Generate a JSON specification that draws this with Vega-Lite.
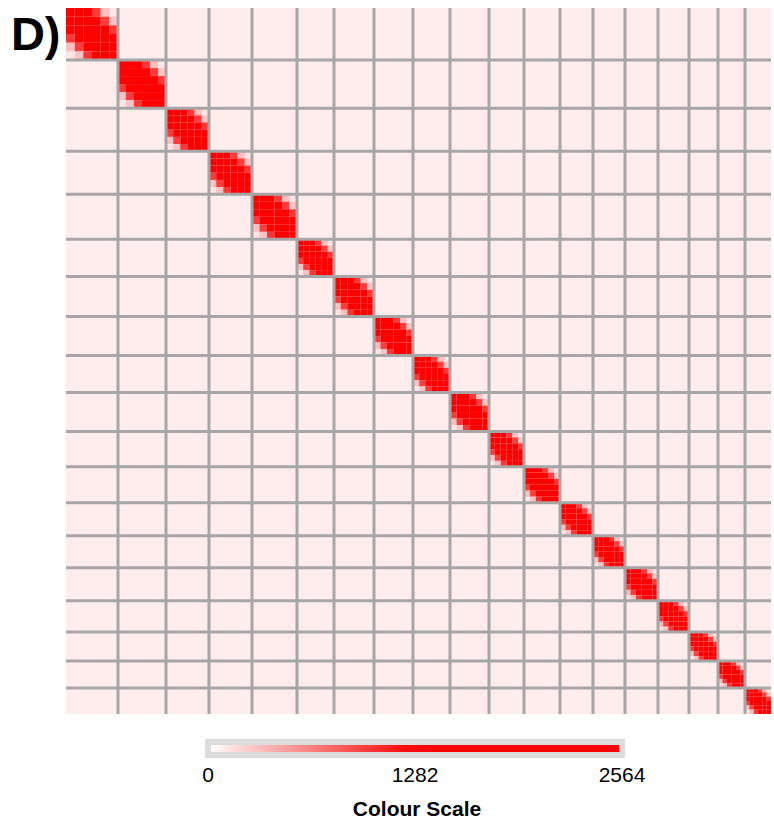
{
  "$schema": "https://vega.github.io/schema/vega-lite/v6.json",
  "autosize": "none",
  "width": 705,
  "height": 706,
  "padding": {"left": 66, "top": 8, "right": 3, "bottom": 106},
  "background": "#ffffff",
  "config": {
    "view": {"stroke": null},
    "font": "Liberation Sans",
    "axisY": {"labels": false, "ticks": false, "domain": false, "grid": false, "titleAngle": 0, "titleAlign": "right", "titleBaseline": "alphabetic", "titleX": -6, "titleY": 41, "titleFontSize": 47, "titleFontWeight": "bold", "titleFont": "Liberation Sans", "titleColor": "#000000"}
  },
  "layer": [
    {
      "data": {"values": [
        {"p0":0,"p1":705,"q0":0,"q1":705,"v":90},
        {"p0":0,"p1":52,"q0":0,"q1":52,"v":130},
        {"p0":52,"p1":100,"q0":52,"q1":100,"v":130},
        {"p0":100,"p1":143,"q0":100,"q1":143,"v":130},
        {"p0":143,"p1":186,"q0":143,"q1":186,"v":130},
        {"p0":186,"p1":231,"q0":186,"q1":231,"v":130},
        {"p0":231,"p1":268,"q0":231,"q1":268,"v":130},
        {"p0":268,"p1":308,"q0":268,"q1":308,"v":130},
        {"p0":308,"p1":347,"q0":308,"q1":347,"v":130},
        {"p0":347,"p1":384,"q0":347,"q1":384,"v":130},
        {"p0":384,"p1":423,"q0":384,"q1":423,"v":130},
        {"p0":423,"p1":458,"q0":423,"q1":458,"v":130},
        {"p0":458,"p1":494,"q0":458,"q1":494,"v":130},
        {"p0":494,"p1":527,"q0":494,"q1":527,"v":130},
        {"p0":527,"p1":559,"q0":527,"q1":559,"v":130},
        {"p0":559,"p1":592,"q0":559,"q1":592,"v":130},
        {"p0":592,"p1":623,"q0":592,"q1":623,"v":130},
        {"p0":623,"p1":652,"q0":623,"q1":652,"v":130},
        {"p0":652,"p1":679,"q0":652,"q1":679,"v":130},
        {"p0":679,"p1":705,"q0":679,"q1":705,"v":130},

        {"p0":0,"p1":8.7,"q0":0,"q1":8.7,"v":2564},
        {"p0":0,"p1":8.7,"q0":8.7,"q1":17.3,"v":2100},
        {"p0":0,"p1":8.7,"q0":17.3,"q1":26,"v":1350},
        {"p0":0,"p1":8.7,"q0":26,"q1":34.7,"v":1000},
        {"p0":0,"p1":8.7,"q0":34.7,"q1":43.3,"v":320},
        {"p0":8.7,"p1":17.3,"q0":0,"q1":8.7,"v":2100},
        {"p0":8.7,"p1":17.3,"q0":8.7,"q1":17.3,"v":2540},
        {"p0":8.7,"p1":17.3,"q0":17.3,"q1":26,"v":2050},
        {"p0":8.7,"p1":17.3,"q0":26,"q1":34.7,"v":1300},
        {"p0":8.7,"p1":17.3,"q0":34.7,"q1":43.3,"v":980},
        {"p0":8.7,"p1":17.3,"q0":43.3,"q1":52,"v":300},
        {"p0":17.3,"p1":26,"q0":0,"q1":8.7,"v":1350},
        {"p0":17.3,"p1":26,"q0":8.7,"q1":17.3,"v":2050},
        {"p0":17.3,"p1":26,"q0":17.3,"q1":26,"v":2500},
        {"p0":17.3,"p1":26,"q0":26,"q1":34.7,"v":2080},
        {"p0":17.3,"p1":26,"q0":34.7,"q1":43.3,"v":1320},
        {"p0":17.3,"p1":26,"q0":43.3,"q1":52,"v":1020},
        {"p0":26,"p1":34.7,"q0":0,"q1":8.7,"v":1000},
        {"p0":26,"p1":34.7,"q0":8.7,"q1":17.3,"v":1300},
        {"p0":26,"p1":34.7,"q0":17.3,"q1":26,"v":2080},
        {"p0":26,"p1":34.7,"q0":26,"q1":34.7,"v":2520},
        {"p0":26,"p1":34.7,"q0":34.7,"q1":43.3,"v":2020},
        {"p0":26,"p1":34.7,"q0":43.3,"q1":52,"v":1280},
        {"p0":34.7,"p1":43.3,"q0":0,"q1":8.7,"v":320},
        {"p0":34.7,"p1":43.3,"q0":8.7,"q1":17.3,"v":980},
        {"p0":34.7,"p1":43.3,"q0":17.3,"q1":26,"v":1320},
        {"p0":34.7,"p1":43.3,"q0":26,"q1":34.7,"v":2020},
        {"p0":34.7,"p1":43.3,"q0":34.7,"q1":43.3,"v":2490},
        {"p0":34.7,"p1":43.3,"q0":43.3,"q1":52,"v":2060},
        {"p0":43.3,"p1":52,"q0":8.7,"q1":17.3,"v":300},
        {"p0":43.3,"p1":52,"q0":17.3,"q1":26,"v":1020},
        {"p0":43.3,"p1":52,"q0":26,"q1":34.7,"v":1280},
        {"p0":43.3,"p1":52,"q0":34.7,"q1":43.3,"v":2060},
        {"p0":43.3,"p1":52,"q0":43.3,"q1":52,"v":2550},

        {"p0":52,"p1":60,"q0":52,"q1":60,"v":2564},
        {"p0":52,"p1":60,"q0":60,"q1":68,"v":2100},
        {"p0":52,"p1":60,"q0":68,"q1":76,"v":1350},
        {"p0":52,"p1":60,"q0":76,"q1":84,"v":1000},
        {"p0":52,"p1":60,"q0":84,"q1":92,"v":320},
        {"p0":60,"p1":68,"q0":52,"q1":60,"v":2100},
        {"p0":60,"p1":68,"q0":60,"q1":68,"v":2540},
        {"p0":60,"p1":68,"q0":68,"q1":76,"v":2050},
        {"p0":60,"p1":68,"q0":76,"q1":84,"v":1300},
        {"p0":60,"p1":68,"q0":84,"q1":92,"v":980},
        {"p0":60,"p1":68,"q0":92,"q1":100,"v":300},
        {"p0":68,"p1":76,"q0":52,"q1":60,"v":1350},
        {"p0":68,"p1":76,"q0":60,"q1":68,"v":2050},
        {"p0":68,"p1":76,"q0":68,"q1":76,"v":2500},
        {"p0":68,"p1":76,"q0":76,"q1":84,"v":2080},
        {"p0":68,"p1":76,"q0":84,"q1":92,"v":1320},
        {"p0":68,"p1":76,"q0":92,"q1":100,"v":1020},
        {"p0":76,"p1":84,"q0":52,"q1":60,"v":1000},
        {"p0":76,"p1":84,"q0":60,"q1":68,"v":1300},
        {"p0":76,"p1":84,"q0":68,"q1":76,"v":2080},
        {"p0":76,"p1":84,"q0":76,"q1":84,"v":2520},
        {"p0":76,"p1":84,"q0":84,"q1":92,"v":2020},
        {"p0":76,"p1":84,"q0":92,"q1":100,"v":1280},
        {"p0":84,"p1":92,"q0":52,"q1":60,"v":320},
        {"p0":84,"p1":92,"q0":60,"q1":68,"v":980},
        {"p0":84,"p1":92,"q0":68,"q1":76,"v":1320},
        {"p0":84,"p1":92,"q0":76,"q1":84,"v":2020},
        {"p0":84,"p1":92,"q0":84,"q1":92,"v":2490},
        {"p0":84,"p1":92,"q0":92,"q1":100,"v":2060},
        {"p0":92,"p1":100,"q0":60,"q1":68,"v":300},
        {"p0":92,"p1":100,"q0":68,"q1":76,"v":1020},
        {"p0":92,"p1":100,"q0":76,"q1":84,"v":1280},
        {"p0":92,"p1":100,"q0":84,"q1":92,"v":2060},
        {"p0":92,"p1":100,"q0":92,"q1":100,"v":2550},

        {"p0":100,"p1":107.2,"q0":100,"q1":107.2,"v":2564},
        {"p0":100,"p1":107.2,"q0":107.2,"q1":114.3,"v":2100},
        {"p0":100,"p1":107.2,"q0":114.3,"q1":121.5,"v":1350},
        {"p0":100,"p1":107.2,"q0":121.5,"q1":128.7,"v":1000},
        {"p0":100,"p1":107.2,"q0":128.7,"q1":135.8,"v":320},
        {"p0":107.2,"p1":114.3,"q0":100,"q1":107.2,"v":2100},
        {"p0":107.2,"p1":114.3,"q0":107.2,"q1":114.3,"v":2540},
        {"p0":107.2,"p1":114.3,"q0":114.3,"q1":121.5,"v":2050},
        {"p0":107.2,"p1":114.3,"q0":121.5,"q1":128.7,"v":1300},
        {"p0":107.2,"p1":114.3,"q0":128.7,"q1":135.8,"v":980},
        {"p0":107.2,"p1":114.3,"q0":135.8,"q1":143,"v":300},
        {"p0":114.3,"p1":121.5,"q0":100,"q1":107.2,"v":1350},
        {"p0":114.3,"p1":121.5,"q0":107.2,"q1":114.3,"v":2050},
        {"p0":114.3,"p1":121.5,"q0":114.3,"q1":121.5,"v":2500},
        {"p0":114.3,"p1":121.5,"q0":121.5,"q1":128.7,"v":2080},
        {"p0":114.3,"p1":121.5,"q0":128.7,"q1":135.8,"v":1320},
        {"p0":114.3,"p1":121.5,"q0":135.8,"q1":143,"v":1020},
        {"p0":121.5,"p1":128.7,"q0":100,"q1":107.2,"v":1000},
        {"p0":121.5,"p1":128.7,"q0":107.2,"q1":114.3,"v":1300},
        {"p0":121.5,"p1":128.7,"q0":114.3,"q1":121.5,"v":2080},
        {"p0":121.5,"p1":128.7,"q0":121.5,"q1":128.7,"v":2520},
        {"p0":121.5,"p1":128.7,"q0":128.7,"q1":135.8,"v":2020},
        {"p0":121.5,"p1":128.7,"q0":135.8,"q1":143,"v":1280},
        {"p0":128.7,"p1":135.8,"q0":100,"q1":107.2,"v":320},
        {"p0":128.7,"p1":135.8,"q0":107.2,"q1":114.3,"v":980},
        {"p0":128.7,"p1":135.8,"q0":114.3,"q1":121.5,"v":1320},
        {"p0":128.7,"p1":135.8,"q0":121.5,"q1":128.7,"v":2020},
        {"p0":128.7,"p1":135.8,"q0":128.7,"q1":135.8,"v":2490},
        {"p0":128.7,"p1":135.8,"q0":135.8,"q1":143,"v":2060},
        {"p0":135.8,"p1":143,"q0":107.2,"q1":114.3,"v":300},
        {"p0":135.8,"p1":143,"q0":114.3,"q1":121.5,"v":1020},
        {"p0":135.8,"p1":143,"q0":121.5,"q1":128.7,"v":1280},
        {"p0":135.8,"p1":143,"q0":128.7,"q1":135.8,"v":2060},
        {"p0":135.8,"p1":143,"q0":135.8,"q1":143,"v":2550},

        {"p0":143,"p1":150.2,"q0":143,"q1":150.2,"v":2564},
        {"p0":143,"p1":150.2,"q0":150.2,"q1":157.3,"v":2100},
        {"p0":143,"p1":150.2,"q0":157.3,"q1":164.5,"v":1350},
        {"p0":143,"p1":150.2,"q0":164.5,"q1":171.7,"v":1000},
        {"p0":143,"p1":150.2,"q0":171.7,"q1":178.8,"v":320},
        {"p0":150.2,"p1":157.3,"q0":143,"q1":150.2,"v":2100},
        {"p0":150.2,"p1":157.3,"q0":150.2,"q1":157.3,"v":2540},
        {"p0":150.2,"p1":157.3,"q0":157.3,"q1":164.5,"v":2050},
        {"p0":150.2,"p1":157.3,"q0":164.5,"q1":171.7,"v":1300},
        {"p0":150.2,"p1":157.3,"q0":171.7,"q1":178.8,"v":980},
        {"p0":150.2,"p1":157.3,"q0":178.8,"q1":186,"v":300},
        {"p0":157.3,"p1":164.5,"q0":143,"q1":150.2,"v":1350},
        {"p0":157.3,"p1":164.5,"q0":150.2,"q1":157.3,"v":2050},
        {"p0":157.3,"p1":164.5,"q0":157.3,"q1":164.5,"v":2500},
        {"p0":157.3,"p1":164.5,"q0":164.5,"q1":171.7,"v":2080},
        {"p0":157.3,"p1":164.5,"q0":171.7,"q1":178.8,"v":1320},
        {"p0":157.3,"p1":164.5,"q0":178.8,"q1":186,"v":1020},
        {"p0":164.5,"p1":171.7,"q0":143,"q1":150.2,"v":1000},
        {"p0":164.5,"p1":171.7,"q0":150.2,"q1":157.3,"v":1300},
        {"p0":164.5,"p1":171.7,"q0":157.3,"q1":164.5,"v":2080},
        {"p0":164.5,"p1":171.7,"q0":164.5,"q1":171.7,"v":2520},
        {"p0":164.5,"p1":171.7,"q0":171.7,"q1":178.8,"v":2020},
        {"p0":164.5,"p1":171.7,"q0":178.8,"q1":186,"v":1280},
        {"p0":171.7,"p1":178.8,"q0":143,"q1":150.2,"v":320},
        {"p0":171.7,"p1":178.8,"q0":150.2,"q1":157.3,"v":980},
        {"p0":171.7,"p1":178.8,"q0":157.3,"q1":164.5,"v":1320},
        {"p0":171.7,"p1":178.8,"q0":164.5,"q1":171.7,"v":2020},
        {"p0":171.7,"p1":178.8,"q0":171.7,"q1":178.8,"v":2490},
        {"p0":171.7,"p1":178.8,"q0":178.8,"q1":186,"v":2060},
        {"p0":178.8,"p1":186,"q0":150.2,"q1":157.3,"v":300},
        {"p0":178.8,"p1":186,"q0":157.3,"q1":164.5,"v":1020},
        {"p0":178.8,"p1":186,"q0":164.5,"q1":171.7,"v":1280},
        {"p0":178.8,"p1":186,"q0":171.7,"q1":178.8,"v":2060},
        {"p0":178.8,"p1":186,"q0":178.8,"q1":186,"v":2550},

        {"p0":186,"p1":193.5,"q0":186,"q1":193.5,"v":2564},
        {"p0":186,"p1":193.5,"q0":193.5,"q1":201,"v":2100},
        {"p0":186,"p1":193.5,"q0":201,"q1":208.5,"v":1350},
        {"p0":186,"p1":193.5,"q0":208.5,"q1":216,"v":1000},
        {"p0":186,"p1":193.5,"q0":216,"q1":223.5,"v":320},
        {"p0":193.5,"p1":201,"q0":186,"q1":193.5,"v":2100},
        {"p0":193.5,"p1":201,"q0":193.5,"q1":201,"v":2540},
        {"p0":193.5,"p1":201,"q0":201,"q1":208.5,"v":2050},
        {"p0":193.5,"p1":201,"q0":208.5,"q1":216,"v":1300},
        {"p0":193.5,"p1":201,"q0":216,"q1":223.5,"v":980},
        {"p0":193.5,"p1":201,"q0":223.5,"q1":231,"v":300},
        {"p0":201,"p1":208.5,"q0":186,"q1":193.5,"v":1350},
        {"p0":201,"p1":208.5,"q0":193.5,"q1":201,"v":2050},
        {"p0":201,"p1":208.5,"q0":201,"q1":208.5,"v":2500},
        {"p0":201,"p1":208.5,"q0":208.5,"q1":216,"v":2080},
        {"p0":201,"p1":208.5,"q0":216,"q1":223.5,"v":1320},
        {"p0":201,"p1":208.5,"q0":223.5,"q1":231,"v":1020},
        {"p0":208.5,"p1":216,"q0":186,"q1":193.5,"v":1000},
        {"p0":208.5,"p1":216,"q0":193.5,"q1":201,"v":1300},
        {"p0":208.5,"p1":216,"q0":201,"q1":208.5,"v":2080},
        {"p0":208.5,"p1":216,"q0":208.5,"q1":216,"v":2520},
        {"p0":208.5,"p1":216,"q0":216,"q1":223.5,"v":2020},
        {"p0":208.5,"p1":216,"q0":223.5,"q1":231,"v":1280},
        {"p0":216,"p1":223.5,"q0":186,"q1":193.5,"v":320},
        {"p0":216,"p1":223.5,"q0":193.5,"q1":201,"v":980},
        {"p0":216,"p1":223.5,"q0":201,"q1":208.5,"v":1320},
        {"p0":216,"p1":223.5,"q0":208.5,"q1":216,"v":2020},
        {"p0":216,"p1":223.5,"q0":216,"q1":223.5,"v":2490},
        {"p0":216,"p1":223.5,"q0":223.5,"q1":231,"v":2060},
        {"p0":223.5,"p1":231,"q0":193.5,"q1":201,"v":300},
        {"p0":223.5,"p1":231,"q0":201,"q1":208.5,"v":1020},
        {"p0":223.5,"p1":231,"q0":208.5,"q1":216,"v":1280},
        {"p0":223.5,"p1":231,"q0":216,"q1":223.5,"v":2060},
        {"p0":223.5,"p1":231,"q0":223.5,"q1":231,"v":2550},

        {"p0":231,"p1":237.2,"q0":231,"q1":237.2,"v":2564},
        {"p0":231,"p1":237.2,"q0":237.2,"q1":243.3,"v":2100},
        {"p0":231,"p1":237.2,"q0":243.3,"q1":249.5,"v":1350},
        {"p0":231,"p1":237.2,"q0":249.5,"q1":255.7,"v":1000},
        {"p0":231,"p1":237.2,"q0":255.7,"q1":261.8,"v":320},
        {"p0":237.2,"p1":243.3,"q0":231,"q1":237.2,"v":2100},
        {"p0":237.2,"p1":243.3,"q0":237.2,"q1":243.3,"v":2540},
        {"p0":237.2,"p1":243.3,"q0":243.3,"q1":249.5,"v":2050},
        {"p0":237.2,"p1":243.3,"q0":249.5,"q1":255.7,"v":1300},
        {"p0":237.2,"p1":243.3,"q0":255.7,"q1":261.8,"v":980},
        {"p0":237.2,"p1":243.3,"q0":261.8,"q1":268,"v":300},
        {"p0":243.3,"p1":249.5,"q0":231,"q1":237.2,"v":1350},
        {"p0":243.3,"p1":249.5,"q0":237.2,"q1":243.3,"v":2050},
        {"p0":243.3,"p1":249.5,"q0":243.3,"q1":249.5,"v":2500},
        {"p0":243.3,"p1":249.5,"q0":249.5,"q1":255.7,"v":2080},
        {"p0":243.3,"p1":249.5,"q0":255.7,"q1":261.8,"v":1320},
        {"p0":243.3,"p1":249.5,"q0":261.8,"q1":268,"v":1020},
        {"p0":249.5,"p1":255.7,"q0":231,"q1":237.2,"v":1000},
        {"p0":249.5,"p1":255.7,"q0":237.2,"q1":243.3,"v":1300},
        {"p0":249.5,"p1":255.7,"q0":243.3,"q1":249.5,"v":2080},
        {"p0":249.5,"p1":255.7,"q0":249.5,"q1":255.7,"v":2520},
        {"p0":249.5,"p1":255.7,"q0":255.7,"q1":261.8,"v":2020},
        {"p0":249.5,"p1":255.7,"q0":261.8,"q1":268,"v":1280},
        {"p0":255.7,"p1":261.8,"q0":231,"q1":237.2,"v":320},
        {"p0":255.7,"p1":261.8,"q0":237.2,"q1":243.3,"v":980},
        {"p0":255.7,"p1":261.8,"q0":243.3,"q1":249.5,"v":1320},
        {"p0":255.7,"p1":261.8,"q0":249.5,"q1":255.7,"v":2020},
        {"p0":255.7,"p1":261.8,"q0":255.7,"q1":261.8,"v":2490},
        {"p0":255.7,"p1":261.8,"q0":261.8,"q1":268,"v":2060},
        {"p0":261.8,"p1":268,"q0":237.2,"q1":243.3,"v":300},
        {"p0":261.8,"p1":268,"q0":243.3,"q1":249.5,"v":1020},
        {"p0":261.8,"p1":268,"q0":249.5,"q1":255.7,"v":1280},
        {"p0":261.8,"p1":268,"q0":255.7,"q1":261.8,"v":2060},
        {"p0":261.8,"p1":268,"q0":261.8,"q1":268,"v":2550},

        {"p0":268,"p1":274.7,"q0":268,"q1":274.7,"v":2564},
        {"p0":268,"p1":274.7,"q0":274.7,"q1":281.3,"v":2100},
        {"p0":268,"p1":274.7,"q0":281.3,"q1":288,"v":1350},
        {"p0":268,"p1":274.7,"q0":288,"q1":294.7,"v":1000},
        {"p0":268,"p1":274.7,"q0":294.7,"q1":301.3,"v":320},
        {"p0":274.7,"p1":281.3,"q0":268,"q1":274.7,"v":2100},
        {"p0":274.7,"p1":281.3,"q0":274.7,"q1":281.3,"v":2540},
        {"p0":274.7,"p1":281.3,"q0":281.3,"q1":288,"v":2050},
        {"p0":274.7,"p1":281.3,"q0":288,"q1":294.7,"v":1300},
        {"p0":274.7,"p1":281.3,"q0":294.7,"q1":301.3,"v":980},
        {"p0":274.7,"p1":281.3,"q0":301.3,"q1":308,"v":300},
        {"p0":281.3,"p1":288,"q0":268,"q1":274.7,"v":1350},
        {"p0":281.3,"p1":288,"q0":274.7,"q1":281.3,"v":2050},
        {"p0":281.3,"p1":288,"q0":281.3,"q1":288,"v":2500},
        {"p0":281.3,"p1":288,"q0":288,"q1":294.7,"v":2080},
        {"p0":281.3,"p1":288,"q0":294.7,"q1":301.3,"v":1320},
        {"p0":281.3,"p1":288,"q0":301.3,"q1":308,"v":1020},
        {"p0":288,"p1":294.7,"q0":268,"q1":274.7,"v":1000},
        {"p0":288,"p1":294.7,"q0":274.7,"q1":281.3,"v":1300},
        {"p0":288,"p1":294.7,"q0":281.3,"q1":288,"v":2080},
        {"p0":288,"p1":294.7,"q0":288,"q1":294.7,"v":2520},
        {"p0":288,"p1":294.7,"q0":294.7,"q1":301.3,"v":2020},
        {"p0":288,"p1":294.7,"q0":301.3,"q1":308,"v":1280},
        {"p0":294.7,"p1":301.3,"q0":268,"q1":274.7,"v":320},
        {"p0":294.7,"p1":301.3,"q0":274.7,"q1":281.3,"v":980},
        {"p0":294.7,"p1":301.3,"q0":281.3,"q1":288,"v":1320},
        {"p0":294.7,"p1":301.3,"q0":288,"q1":294.7,"v":2020},
        {"p0":294.7,"p1":301.3,"q0":294.7,"q1":301.3,"v":2490},
        {"p0":294.7,"p1":301.3,"q0":301.3,"q1":308,"v":2060},
        {"p0":301.3,"p1":308,"q0":274.7,"q1":281.3,"v":300},
        {"p0":301.3,"p1":308,"q0":281.3,"q1":288,"v":1020},
        {"p0":301.3,"p1":308,"q0":288,"q1":294.7,"v":1280},
        {"p0":301.3,"p1":308,"q0":294.7,"q1":301.3,"v":2060},
        {"p0":301.3,"p1":308,"q0":301.3,"q1":308,"v":2550},

        {"p0":308,"p1":314.5,"q0":308,"q1":314.5,"v":2564},
        {"p0":308,"p1":314.5,"q0":314.5,"q1":321,"v":2100},
        {"p0":308,"p1":314.5,"q0":321,"q1":327.5,"v":1350},
        {"p0":308,"p1":314.5,"q0":327.5,"q1":334,"v":1000},
        {"p0":308,"p1":314.5,"q0":334,"q1":340.5,"v":320},
        {"p0":314.5,"p1":321,"q0":308,"q1":314.5,"v":2100},
        {"p0":314.5,"p1":321,"q0":314.5,"q1":321,"v":2540},
        {"p0":314.5,"p1":321,"q0":321,"q1":327.5,"v":2050},
        {"p0":314.5,"p1":321,"q0":327.5,"q1":334,"v":1300},
        {"p0":314.5,"p1":321,"q0":334,"q1":340.5,"v":980},
        {"p0":314.5,"p1":321,"q0":340.5,"q1":347,"v":300},
        {"p0":321,"p1":327.5,"q0":308,"q1":314.5,"v":1350},
        {"p0":321,"p1":327.5,"q0":314.5,"q1":321,"v":2050},
        {"p0":321,"p1":327.5,"q0":321,"q1":327.5,"v":2500},
        {"p0":321,"p1":327.5,"q0":327.5,"q1":334,"v":2080},
        {"p0":321,"p1":327.5,"q0":334,"q1":340.5,"v":1320},
        {"p0":321,"p1":327.5,"q0":340.5,"q1":347,"v":1020},
        {"p0":327.5,"p1":334,"q0":308,"q1":314.5,"v":1000},
        {"p0":327.5,"p1":334,"q0":314.5,"q1":321,"v":1300},
        {"p0":327.5,"p1":334,"q0":321,"q1":327.5,"v":2080},
        {"p0":327.5,"p1":334,"q0":327.5,"q1":334,"v":2520},
        {"p0":327.5,"p1":334,"q0":334,"q1":340.5,"v":2020},
        {"p0":327.5,"p1":334,"q0":340.5,"q1":347,"v":1280},
        {"p0":334,"p1":340.5,"q0":308,"q1":314.5,"v":320},
        {"p0":334,"p1":340.5,"q0":314.5,"q1":321,"v":980},
        {"p0":334,"p1":340.5,"q0":321,"q1":327.5,"v":1320},
        {"p0":334,"p1":340.5,"q0":327.5,"q1":334,"v":2020},
        {"p0":334,"p1":340.5,"q0":334,"q1":340.5,"v":2490},
        {"p0":334,"p1":340.5,"q0":340.5,"q1":347,"v":2060},
        {"p0":340.5,"p1":347,"q0":314.5,"q1":321,"v":300},
        {"p0":340.5,"p1":347,"q0":321,"q1":327.5,"v":1020},
        {"p0":340.5,"p1":347,"q0":327.5,"q1":334,"v":1280},
        {"p0":340.5,"p1":347,"q0":334,"q1":340.5,"v":2060},
        {"p0":340.5,"p1":347,"q0":340.5,"q1":347,"v":2550},

        {"p0":347,"p1":353.2,"q0":347,"q1":353.2,"v":2564},
        {"p0":347,"p1":353.2,"q0":353.2,"q1":359.3,"v":2100},
        {"p0":347,"p1":353.2,"q0":359.3,"q1":365.5,"v":1350},
        {"p0":347,"p1":353.2,"q0":365.5,"q1":371.7,"v":1000},
        {"p0":347,"p1":353.2,"q0":371.7,"q1":377.8,"v":320},
        {"p0":353.2,"p1":359.3,"q0":347,"q1":353.2,"v":2100},
        {"p0":353.2,"p1":359.3,"q0":353.2,"q1":359.3,"v":2540},
        {"p0":353.2,"p1":359.3,"q0":359.3,"q1":365.5,"v":2050},
        {"p0":353.2,"p1":359.3,"q0":365.5,"q1":371.7,"v":1300},
        {"p0":353.2,"p1":359.3,"q0":371.7,"q1":377.8,"v":980},
        {"p0":353.2,"p1":359.3,"q0":377.8,"q1":384,"v":300},
        {"p0":359.3,"p1":365.5,"q0":347,"q1":353.2,"v":1350},
        {"p0":359.3,"p1":365.5,"q0":353.2,"q1":359.3,"v":2050},
        {"p0":359.3,"p1":365.5,"q0":359.3,"q1":365.5,"v":2500},
        {"p0":359.3,"p1":365.5,"q0":365.5,"q1":371.7,"v":2080},
        {"p0":359.3,"p1":365.5,"q0":371.7,"q1":377.8,"v":1320},
        {"p0":359.3,"p1":365.5,"q0":377.8,"q1":384,"v":1020},
        {"p0":365.5,"p1":371.7,"q0":347,"q1":353.2,"v":1000},
        {"p0":365.5,"p1":371.7,"q0":353.2,"q1":359.3,"v":1300},
        {"p0":365.5,"p1":371.7,"q0":359.3,"q1":365.5,"v":2080},
        {"p0":365.5,"p1":371.7,"q0":365.5,"q1":371.7,"v":2520},
        {"p0":365.5,"p1":371.7,"q0":371.7,"q1":377.8,"v":2020},
        {"p0":365.5,"p1":371.7,"q0":377.8,"q1":384,"v":1280},
        {"p0":371.7,"p1":377.8,"q0":347,"q1":353.2,"v":320},
        {"p0":371.7,"p1":377.8,"q0":353.2,"q1":359.3,"v":980},
        {"p0":371.7,"p1":377.8,"q0":359.3,"q1":365.5,"v":1320},
        {"p0":371.7,"p1":377.8,"q0":365.5,"q1":371.7,"v":2020},
        {"p0":371.7,"p1":377.8,"q0":371.7,"q1":377.8,"v":2490},
        {"p0":371.7,"p1":377.8,"q0":377.8,"q1":384,"v":2060},
        {"p0":377.8,"p1":384,"q0":353.2,"q1":359.3,"v":300},
        {"p0":377.8,"p1":384,"q0":359.3,"q1":365.5,"v":1020},
        {"p0":377.8,"p1":384,"q0":365.5,"q1":371.7,"v":1280},
        {"p0":377.8,"p1":384,"q0":371.7,"q1":377.8,"v":2060},
        {"p0":377.8,"p1":384,"q0":377.8,"q1":384,"v":2550},

        {"p0":384,"p1":390.5,"q0":384,"q1":390.5,"v":2564},
        {"p0":384,"p1":390.5,"q0":390.5,"q1":397,"v":2100},
        {"p0":384,"p1":390.5,"q0":397,"q1":403.5,"v":1350},
        {"p0":384,"p1":390.5,"q0":403.5,"q1":410,"v":1000},
        {"p0":384,"p1":390.5,"q0":410,"q1":416.5,"v":320},
        {"p0":390.5,"p1":397,"q0":384,"q1":390.5,"v":2100},
        {"p0":390.5,"p1":397,"q0":390.5,"q1":397,"v":2540},
        {"p0":390.5,"p1":397,"q0":397,"q1":403.5,"v":2050},
        {"p0":390.5,"p1":397,"q0":403.5,"q1":410,"v":1300},
        {"p0":390.5,"p1":397,"q0":410,"q1":416.5,"v":980},
        {"p0":390.5,"p1":397,"q0":416.5,"q1":423,"v":300},
        {"p0":397,"p1":403.5,"q0":384,"q1":390.5,"v":1350},
        {"p0":397,"p1":403.5,"q0":390.5,"q1":397,"v":2050},
        {"p0":397,"p1":403.5,"q0":397,"q1":403.5,"v":2500},
        {"p0":397,"p1":403.5,"q0":403.5,"q1":410,"v":2080},
        {"p0":397,"p1":403.5,"q0":410,"q1":416.5,"v":1320},
        {"p0":397,"p1":403.5,"q0":416.5,"q1":423,"v":1020},
        {"p0":403.5,"p1":410,"q0":384,"q1":390.5,"v":1000},
        {"p0":403.5,"p1":410,"q0":390.5,"q1":397,"v":1300},
        {"p0":403.5,"p1":410,"q0":397,"q1":403.5,"v":2080},
        {"p0":403.5,"p1":410,"q0":403.5,"q1":410,"v":2520},
        {"p0":403.5,"p1":410,"q0":410,"q1":416.5,"v":2020},
        {"p0":403.5,"p1":410,"q0":416.5,"q1":423,"v":1280},
        {"p0":410,"p1":416.5,"q0":384,"q1":390.5,"v":320},
        {"p0":410,"p1":416.5,"q0":390.5,"q1":397,"v":980},
        {"p0":410,"p1":416.5,"q0":397,"q1":403.5,"v":1320},
        {"p0":410,"p1":416.5,"q0":403.5,"q1":410,"v":2020},
        {"p0":410,"p1":416.5,"q0":410,"q1":416.5,"v":2490},
        {"p0":410,"p1":416.5,"q0":416.5,"q1":423,"v":2060},
        {"p0":416.5,"p1":423,"q0":390.5,"q1":397,"v":300},
        {"p0":416.5,"p1":423,"q0":397,"q1":403.5,"v":1020},
        {"p0":416.5,"p1":423,"q0":403.5,"q1":410,"v":1280},
        {"p0":416.5,"p1":423,"q0":410,"q1":416.5,"v":2060},
        {"p0":416.5,"p1":423,"q0":416.5,"q1":423,"v":2550},

        {"p0":423,"p1":428.8,"q0":423,"q1":428.8,"v":2564},
        {"p0":423,"p1":428.8,"q0":428.8,"q1":434.7,"v":2100},
        {"p0":423,"p1":428.8,"q0":434.7,"q1":440.5,"v":1350},
        {"p0":423,"p1":428.8,"q0":440.5,"q1":446.3,"v":1000},
        {"p0":423,"p1":428.8,"q0":446.3,"q1":452.2,"v":320},
        {"p0":428.8,"p1":434.7,"q0":423,"q1":428.8,"v":2100},
        {"p0":428.8,"p1":434.7,"q0":428.8,"q1":434.7,"v":2540},
        {"p0":428.8,"p1":434.7,"q0":434.7,"q1":440.5,"v":2050},
        {"p0":428.8,"p1":434.7,"q0":440.5,"q1":446.3,"v":1300},
        {"p0":428.8,"p1":434.7,"q0":446.3,"q1":452.2,"v":980},
        {"p0":428.8,"p1":434.7,"q0":452.2,"q1":458,"v":300},
        {"p0":434.7,"p1":440.5,"q0":423,"q1":428.8,"v":1350},
        {"p0":434.7,"p1":440.5,"q0":428.8,"q1":434.7,"v":2050},
        {"p0":434.7,"p1":440.5,"q0":434.7,"q1":440.5,"v":2500},
        {"p0":434.7,"p1":440.5,"q0":440.5,"q1":446.3,"v":2080},
        {"p0":434.7,"p1":440.5,"q0":446.3,"q1":452.2,"v":1320},
        {"p0":434.7,"p1":440.5,"q0":452.2,"q1":458,"v":1020},
        {"p0":440.5,"p1":446.3,"q0":423,"q1":428.8,"v":1000},
        {"p0":440.5,"p1":446.3,"q0":428.8,"q1":434.7,"v":1300},
        {"p0":440.5,"p1":446.3,"q0":434.7,"q1":440.5,"v":2080},
        {"p0":440.5,"p1":446.3,"q0":440.5,"q1":446.3,"v":2520},
        {"p0":440.5,"p1":446.3,"q0":446.3,"q1":452.2,"v":2020},
        {"p0":440.5,"p1":446.3,"q0":452.2,"q1":458,"v":1280},
        {"p0":446.3,"p1":452.2,"q0":423,"q1":428.8,"v":320},
        {"p0":446.3,"p1":452.2,"q0":428.8,"q1":434.7,"v":980},
        {"p0":446.3,"p1":452.2,"q0":434.7,"q1":440.5,"v":1320},
        {"p0":446.3,"p1":452.2,"q0":440.5,"q1":446.3,"v":2020},
        {"p0":446.3,"p1":452.2,"q0":446.3,"q1":452.2,"v":2490},
        {"p0":446.3,"p1":452.2,"q0":452.2,"q1":458,"v":2060},
        {"p0":452.2,"p1":458,"q0":428.8,"q1":434.7,"v":300},
        {"p0":452.2,"p1":458,"q0":434.7,"q1":440.5,"v":1020},
        {"p0":452.2,"p1":458,"q0":440.5,"q1":446.3,"v":1280},
        {"p0":452.2,"p1":458,"q0":446.3,"q1":452.2,"v":2060},
        {"p0":452.2,"p1":458,"q0":452.2,"q1":458,"v":2550},

        {"p0":458,"p1":464,"q0":458,"q1":464,"v":2564},
        {"p0":458,"p1":464,"q0":464,"q1":470,"v":2100},
        {"p0":458,"p1":464,"q0":470,"q1":476,"v":1350},
        {"p0":458,"p1":464,"q0":476,"q1":482,"v":1000},
        {"p0":458,"p1":464,"q0":482,"q1":488,"v":320},
        {"p0":464,"p1":470,"q0":458,"q1":464,"v":2100},
        {"p0":464,"p1":470,"q0":464,"q1":470,"v":2540},
        {"p0":464,"p1":470,"q0":470,"q1":476,"v":2050},
        {"p0":464,"p1":470,"q0":476,"q1":482,"v":1300},
        {"p0":464,"p1":470,"q0":482,"q1":488,"v":980},
        {"p0":464,"p1":470,"q0":488,"q1":494,"v":300},
        {"p0":470,"p1":476,"q0":458,"q1":464,"v":1350},
        {"p0":470,"p1":476,"q0":464,"q1":470,"v":2050},
        {"p0":470,"p1":476,"q0":470,"q1":476,"v":2500},
        {"p0":470,"p1":476,"q0":476,"q1":482,"v":2080},
        {"p0":470,"p1":476,"q0":482,"q1":488,"v":1320},
        {"p0":470,"p1":476,"q0":488,"q1":494,"v":1020},
        {"p0":476,"p1":482,"q0":458,"q1":464,"v":1000},
        {"p0":476,"p1":482,"q0":464,"q1":470,"v":1300},
        {"p0":476,"p1":482,"q0":470,"q1":476,"v":2080},
        {"p0":476,"p1":482,"q0":476,"q1":482,"v":2520},
        {"p0":476,"p1":482,"q0":482,"q1":488,"v":2020},
        {"p0":476,"p1":482,"q0":488,"q1":494,"v":1280},
        {"p0":482,"p1":488,"q0":458,"q1":464,"v":320},
        {"p0":482,"p1":488,"q0":464,"q1":470,"v":980},
        {"p0":482,"p1":488,"q0":470,"q1":476,"v":1320},
        {"p0":482,"p1":488,"q0":476,"q1":482,"v":2020},
        {"p0":482,"p1":488,"q0":482,"q1":488,"v":2490},
        {"p0":482,"p1":488,"q0":488,"q1":494,"v":2060},
        {"p0":488,"p1":494,"q0":464,"q1":470,"v":300},
        {"p0":488,"p1":494,"q0":470,"q1":476,"v":1020},
        {"p0":488,"p1":494,"q0":476,"q1":482,"v":1280},
        {"p0":488,"p1":494,"q0":482,"q1":488,"v":2060},
        {"p0":488,"p1":494,"q0":488,"q1":494,"v":2550},

        {"p0":494,"p1":499.5,"q0":494,"q1":499.5,"v":2564},
        {"p0":494,"p1":499.5,"q0":499.5,"q1":505,"v":2100},
        {"p0":494,"p1":499.5,"q0":505,"q1":510.5,"v":1350},
        {"p0":494,"p1":499.5,"q0":510.5,"q1":516,"v":1000},
        {"p0":494,"p1":499.5,"q0":516,"q1":521.5,"v":320},
        {"p0":499.5,"p1":505,"q0":494,"q1":499.5,"v":2100},
        {"p0":499.5,"p1":505,"q0":499.5,"q1":505,"v":2540},
        {"p0":499.5,"p1":505,"q0":505,"q1":510.5,"v":2050},
        {"p0":499.5,"p1":505,"q0":510.5,"q1":516,"v":1300},
        {"p0":499.5,"p1":505,"q0":516,"q1":521.5,"v":980},
        {"p0":499.5,"p1":505,"q0":521.5,"q1":527,"v":300},
        {"p0":505,"p1":510.5,"q0":494,"q1":499.5,"v":1350},
        {"p0":505,"p1":510.5,"q0":499.5,"q1":505,"v":2050},
        {"p0":505,"p1":510.5,"q0":505,"q1":510.5,"v":2500},
        {"p0":505,"p1":510.5,"q0":510.5,"q1":516,"v":2080},
        {"p0":505,"p1":510.5,"q0":516,"q1":521.5,"v":1320},
        {"p0":505,"p1":510.5,"q0":521.5,"q1":527,"v":1020},
        {"p0":510.5,"p1":516,"q0":494,"q1":499.5,"v":1000},
        {"p0":510.5,"p1":516,"q0":499.5,"q1":505,"v":1300},
        {"p0":510.5,"p1":516,"q0":505,"q1":510.5,"v":2080},
        {"p0":510.5,"p1":516,"q0":510.5,"q1":516,"v":2520},
        {"p0":510.5,"p1":516,"q0":516,"q1":521.5,"v":2020},
        {"p0":510.5,"p1":516,"q0":521.5,"q1":527,"v":1280},
        {"p0":516,"p1":521.5,"q0":494,"q1":499.5,"v":320},
        {"p0":516,"p1":521.5,"q0":499.5,"q1":505,"v":980},
        {"p0":516,"p1":521.5,"q0":505,"q1":510.5,"v":1320},
        {"p0":516,"p1":521.5,"q0":510.5,"q1":516,"v":2020},
        {"p0":516,"p1":521.5,"q0":516,"q1":521.5,"v":2490},
        {"p0":516,"p1":521.5,"q0":521.5,"q1":527,"v":2060},
        {"p0":521.5,"p1":527,"q0":499.5,"q1":505,"v":300},
        {"p0":521.5,"p1":527,"q0":505,"q1":510.5,"v":1020},
        {"p0":521.5,"p1":527,"q0":510.5,"q1":516,"v":1280},
        {"p0":521.5,"p1":527,"q0":516,"q1":521.5,"v":2060},
        {"p0":521.5,"p1":527,"q0":521.5,"q1":527,"v":2550},

        {"p0":527,"p1":532.3,"q0":527,"q1":532.3,"v":2564},
        {"p0":527,"p1":532.3,"q0":532.3,"q1":537.7,"v":2100},
        {"p0":527,"p1":532.3,"q0":537.7,"q1":543,"v":1350},
        {"p0":527,"p1":532.3,"q0":543,"q1":548.3,"v":1000},
        {"p0":527,"p1":532.3,"q0":548.3,"q1":553.7,"v":320},
        {"p0":532.3,"p1":537.7,"q0":527,"q1":532.3,"v":2100},
        {"p0":532.3,"p1":537.7,"q0":532.3,"q1":537.7,"v":2540},
        {"p0":532.3,"p1":537.7,"q0":537.7,"q1":543,"v":2050},
        {"p0":532.3,"p1":537.7,"q0":543,"q1":548.3,"v":1300},
        {"p0":532.3,"p1":537.7,"q0":548.3,"q1":553.7,"v":980},
        {"p0":532.3,"p1":537.7,"q0":553.7,"q1":559,"v":300},
        {"p0":537.7,"p1":543,"q0":527,"q1":532.3,"v":1350},
        {"p0":537.7,"p1":543,"q0":532.3,"q1":537.7,"v":2050},
        {"p0":537.7,"p1":543,"q0":537.7,"q1":543,"v":2500},
        {"p0":537.7,"p1":543,"q0":543,"q1":548.3,"v":2080},
        {"p0":537.7,"p1":543,"q0":548.3,"q1":553.7,"v":1320},
        {"p0":537.7,"p1":543,"q0":553.7,"q1":559,"v":1020},
        {"p0":543,"p1":548.3,"q0":527,"q1":532.3,"v":1000},
        {"p0":543,"p1":548.3,"q0":532.3,"q1":537.7,"v":1300},
        {"p0":543,"p1":548.3,"q0":537.7,"q1":543,"v":2080},
        {"p0":543,"p1":548.3,"q0":543,"q1":548.3,"v":2520},
        {"p0":543,"p1":548.3,"q0":548.3,"q1":553.7,"v":2020},
        {"p0":543,"p1":548.3,"q0":553.7,"q1":559,"v":1280},
        {"p0":548.3,"p1":553.7,"q0":527,"q1":532.3,"v":320},
        {"p0":548.3,"p1":553.7,"q0":532.3,"q1":537.7,"v":980},
        {"p0":548.3,"p1":553.7,"q0":537.7,"q1":543,"v":1320},
        {"p0":548.3,"p1":553.7,"q0":543,"q1":548.3,"v":2020},
        {"p0":548.3,"p1":553.7,"q0":548.3,"q1":553.7,"v":2490},
        {"p0":548.3,"p1":553.7,"q0":553.7,"q1":559,"v":2060},
        {"p0":553.7,"p1":559,"q0":532.3,"q1":537.7,"v":300},
        {"p0":553.7,"p1":559,"q0":537.7,"q1":543,"v":1020},
        {"p0":553.7,"p1":559,"q0":543,"q1":548.3,"v":1280},
        {"p0":553.7,"p1":559,"q0":548.3,"q1":553.7,"v":2060},
        {"p0":553.7,"p1":559,"q0":553.7,"q1":559,"v":2550},

        {"p0":559,"p1":564.5,"q0":559,"q1":564.5,"v":2564},
        {"p0":559,"p1":564.5,"q0":564.5,"q1":570,"v":2100},
        {"p0":559,"p1":564.5,"q0":570,"q1":575.5,"v":1350},
        {"p0":559,"p1":564.5,"q0":575.5,"q1":581,"v":1000},
        {"p0":559,"p1":564.5,"q0":581,"q1":586.5,"v":320},
        {"p0":564.5,"p1":570,"q0":559,"q1":564.5,"v":2100},
        {"p0":564.5,"p1":570,"q0":564.5,"q1":570,"v":2540},
        {"p0":564.5,"p1":570,"q0":570,"q1":575.5,"v":2050},
        {"p0":564.5,"p1":570,"q0":575.5,"q1":581,"v":1300},
        {"p0":564.5,"p1":570,"q0":581,"q1":586.5,"v":980},
        {"p0":564.5,"p1":570,"q0":586.5,"q1":592,"v":300},
        {"p0":570,"p1":575.5,"q0":559,"q1":564.5,"v":1350},
        {"p0":570,"p1":575.5,"q0":564.5,"q1":570,"v":2050},
        {"p0":570,"p1":575.5,"q0":570,"q1":575.5,"v":2500},
        {"p0":570,"p1":575.5,"q0":575.5,"q1":581,"v":2080},
        {"p0":570,"p1":575.5,"q0":581,"q1":586.5,"v":1320},
        {"p0":570,"p1":575.5,"q0":586.5,"q1":592,"v":1020},
        {"p0":575.5,"p1":581,"q0":559,"q1":564.5,"v":1000},
        {"p0":575.5,"p1":581,"q0":564.5,"q1":570,"v":1300},
        {"p0":575.5,"p1":581,"q0":570,"q1":575.5,"v":2080},
        {"p0":575.5,"p1":581,"q0":575.5,"q1":581,"v":2520},
        {"p0":575.5,"p1":581,"q0":581,"q1":586.5,"v":2020},
        {"p0":575.5,"p1":581,"q0":586.5,"q1":592,"v":1280},
        {"p0":581,"p1":586.5,"q0":559,"q1":564.5,"v":320},
        {"p0":581,"p1":586.5,"q0":564.5,"q1":570,"v":980},
        {"p0":581,"p1":586.5,"q0":570,"q1":575.5,"v":1320},
        {"p0":581,"p1":586.5,"q0":575.5,"q1":581,"v":2020},
        {"p0":581,"p1":586.5,"q0":581,"q1":586.5,"v":2490},
        {"p0":581,"p1":586.5,"q0":586.5,"q1":592,"v":2060},
        {"p0":586.5,"p1":592,"q0":564.5,"q1":570,"v":300},
        {"p0":586.5,"p1":592,"q0":570,"q1":575.5,"v":1020},
        {"p0":586.5,"p1":592,"q0":575.5,"q1":581,"v":1280},
        {"p0":586.5,"p1":592,"q0":581,"q1":586.5,"v":2060},
        {"p0":586.5,"p1":592,"q0":586.5,"q1":592,"v":2550},

        {"p0":592,"p1":597.2,"q0":592,"q1":597.2,"v":2564},
        {"p0":592,"p1":597.2,"q0":597.2,"q1":602.3,"v":2100},
        {"p0":592,"p1":597.2,"q0":602.3,"q1":607.5,"v":1350},
        {"p0":592,"p1":597.2,"q0":607.5,"q1":612.7,"v":1000},
        {"p0":592,"p1":597.2,"q0":612.7,"q1":617.8,"v":320},
        {"p0":597.2,"p1":602.3,"q0":592,"q1":597.2,"v":2100},
        {"p0":597.2,"p1":602.3,"q0":597.2,"q1":602.3,"v":2540},
        {"p0":597.2,"p1":602.3,"q0":602.3,"q1":607.5,"v":2050},
        {"p0":597.2,"p1":602.3,"q0":607.5,"q1":612.7,"v":1300},
        {"p0":597.2,"p1":602.3,"q0":612.7,"q1":617.8,"v":980},
        {"p0":597.2,"p1":602.3,"q0":617.8,"q1":623,"v":300},
        {"p0":602.3,"p1":607.5,"q0":592,"q1":597.2,"v":1350},
        {"p0":602.3,"p1":607.5,"q0":597.2,"q1":602.3,"v":2050},
        {"p0":602.3,"p1":607.5,"q0":602.3,"q1":607.5,"v":2500},
        {"p0":602.3,"p1":607.5,"q0":607.5,"q1":612.7,"v":2080},
        {"p0":602.3,"p1":607.5,"q0":612.7,"q1":617.8,"v":1320},
        {"p0":602.3,"p1":607.5,"q0":617.8,"q1":623,"v":1020},
        {"p0":607.5,"p1":612.7,"q0":592,"q1":597.2,"v":1000},
        {"p0":607.5,"p1":612.7,"q0":597.2,"q1":602.3,"v":1300},
        {"p0":607.5,"p1":612.7,"q0":602.3,"q1":607.5,"v":2080},
        {"p0":607.5,"p1":612.7,"q0":607.5,"q1":612.7,"v":2520},
        {"p0":607.5,"p1":612.7,"q0":612.7,"q1":617.8,"v":2020},
        {"p0":607.5,"p1":612.7,"q0":617.8,"q1":623,"v":1280},
        {"p0":612.7,"p1":617.8,"q0":592,"q1":597.2,"v":320},
        {"p0":612.7,"p1":617.8,"q0":597.2,"q1":602.3,"v":980},
        {"p0":612.7,"p1":617.8,"q0":602.3,"q1":607.5,"v":1320},
        {"p0":612.7,"p1":617.8,"q0":607.5,"q1":612.7,"v":2020},
        {"p0":612.7,"p1":617.8,"q0":612.7,"q1":617.8,"v":2490},
        {"p0":612.7,"p1":617.8,"q0":617.8,"q1":623,"v":2060},
        {"p0":617.8,"p1":623,"q0":597.2,"q1":602.3,"v":300},
        {"p0":617.8,"p1":623,"q0":602.3,"q1":607.5,"v":1020},
        {"p0":617.8,"p1":623,"q0":607.5,"q1":612.7,"v":1280},
        {"p0":617.8,"p1":623,"q0":612.7,"q1":617.8,"v":2060},
        {"p0":617.8,"p1":623,"q0":617.8,"q1":623,"v":2550},

        {"p0":623,"p1":627.8,"q0":623,"q1":627.8,"v":2564},
        {"p0":623,"p1":627.8,"q0":627.8,"q1":632.7,"v":2100},
        {"p0":623,"p1":627.8,"q0":632.7,"q1":637.5,"v":1350},
        {"p0":623,"p1":627.8,"q0":637.5,"q1":642.3,"v":1000},
        {"p0":623,"p1":627.8,"q0":642.3,"q1":647.2,"v":320},
        {"p0":627.8,"p1":632.7,"q0":623,"q1":627.8,"v":2100},
        {"p0":627.8,"p1":632.7,"q0":627.8,"q1":632.7,"v":2540},
        {"p0":627.8,"p1":632.7,"q0":632.7,"q1":637.5,"v":2050},
        {"p0":627.8,"p1":632.7,"q0":637.5,"q1":642.3,"v":1300},
        {"p0":627.8,"p1":632.7,"q0":642.3,"q1":647.2,"v":980},
        {"p0":627.8,"p1":632.7,"q0":647.2,"q1":652,"v":300},
        {"p0":632.7,"p1":637.5,"q0":623,"q1":627.8,"v":1350},
        {"p0":632.7,"p1":637.5,"q0":627.8,"q1":632.7,"v":2050},
        {"p0":632.7,"p1":637.5,"q0":632.7,"q1":637.5,"v":2500},
        {"p0":632.7,"p1":637.5,"q0":637.5,"q1":642.3,"v":2080},
        {"p0":632.7,"p1":637.5,"q0":642.3,"q1":647.2,"v":1320},
        {"p0":632.7,"p1":637.5,"q0":647.2,"q1":652,"v":1020},
        {"p0":637.5,"p1":642.3,"q0":623,"q1":627.8,"v":1000},
        {"p0":637.5,"p1":642.3,"q0":627.8,"q1":632.7,"v":1300},
        {"p0":637.5,"p1":642.3,"q0":632.7,"q1":637.5,"v":2080},
        {"p0":637.5,"p1":642.3,"q0":637.5,"q1":642.3,"v":2520},
        {"p0":637.5,"p1":642.3,"q0":642.3,"q1":647.2,"v":2020},
        {"p0":637.5,"p1":642.3,"q0":647.2,"q1":652,"v":1280},
        {"p0":642.3,"p1":647.2,"q0":623,"q1":627.8,"v":320},
        {"p0":642.3,"p1":647.2,"q0":627.8,"q1":632.7,"v":980},
        {"p0":642.3,"p1":647.2,"q0":632.7,"q1":637.5,"v":1320},
        {"p0":642.3,"p1":647.2,"q0":637.5,"q1":642.3,"v":2020},
        {"p0":642.3,"p1":647.2,"q0":642.3,"q1":647.2,"v":2490},
        {"p0":642.3,"p1":647.2,"q0":647.2,"q1":652,"v":2060},
        {"p0":647.2,"p1":652,"q0":627.8,"q1":632.7,"v":300},
        {"p0":647.2,"p1":652,"q0":632.7,"q1":637.5,"v":1020},
        {"p0":647.2,"p1":652,"q0":637.5,"q1":642.3,"v":1280},
        {"p0":647.2,"p1":652,"q0":642.3,"q1":647.2,"v":2060},
        {"p0":647.2,"p1":652,"q0":647.2,"q1":652,"v":2550},

        {"p0":652,"p1":656.5,"q0":652,"q1":656.5,"v":2564},
        {"p0":652,"p1":656.5,"q0":656.5,"q1":661,"v":2100},
        {"p0":652,"p1":656.5,"q0":661,"q1":665.5,"v":1350},
        {"p0":652,"p1":656.5,"q0":665.5,"q1":670,"v":1000},
        {"p0":652,"p1":656.5,"q0":670,"q1":674.5,"v":320},
        {"p0":656.5,"p1":661,"q0":652,"q1":656.5,"v":2100},
        {"p0":656.5,"p1":661,"q0":656.5,"q1":661,"v":2540},
        {"p0":656.5,"p1":661,"q0":661,"q1":665.5,"v":2050},
        {"p0":656.5,"p1":661,"q0":665.5,"q1":670,"v":1300},
        {"p0":656.5,"p1":661,"q0":670,"q1":674.5,"v":980},
        {"p0":656.5,"p1":661,"q0":674.5,"q1":679,"v":300},
        {"p0":661,"p1":665.5,"q0":652,"q1":656.5,"v":1350},
        {"p0":661,"p1":665.5,"q0":656.5,"q1":661,"v":2050},
        {"p0":661,"p1":665.5,"q0":661,"q1":665.5,"v":2500},
        {"p0":661,"p1":665.5,"q0":665.5,"q1":670,"v":2080},
        {"p0":661,"p1":665.5,"q0":670,"q1":674.5,"v":1320},
        {"p0":661,"p1":665.5,"q0":674.5,"q1":679,"v":1020},
        {"p0":665.5,"p1":670,"q0":652,"q1":656.5,"v":1000},
        {"p0":665.5,"p1":670,"q0":656.5,"q1":661,"v":1300},
        {"p0":665.5,"p1":670,"q0":661,"q1":665.5,"v":2080},
        {"p0":665.5,"p1":670,"q0":665.5,"q1":670,"v":2520},
        {"p0":665.5,"p1":670,"q0":670,"q1":674.5,"v":2020},
        {"p0":665.5,"p1":670,"q0":674.5,"q1":679,"v":1280},
        {"p0":670,"p1":674.5,"q0":652,"q1":656.5,"v":320},
        {"p0":670,"p1":674.5,"q0":656.5,"q1":661,"v":980},
        {"p0":670,"p1":674.5,"q0":661,"q1":665.5,"v":1320},
        {"p0":670,"p1":674.5,"q0":665.5,"q1":670,"v":2020},
        {"p0":670,"p1":674.5,"q0":670,"q1":674.5,"v":2490},
        {"p0":670,"p1":674.5,"q0":674.5,"q1":679,"v":2060},
        {"p0":674.5,"p1":679,"q0":656.5,"q1":661,"v":300},
        {"p0":674.5,"p1":679,"q0":661,"q1":665.5,"v":1020},
        {"p0":674.5,"p1":679,"q0":665.5,"q1":670,"v":1280},
        {"p0":674.5,"p1":679,"q0":670,"q1":674.5,"v":2060},
        {"p0":674.5,"p1":679,"q0":674.5,"q1":679,"v":2550},

        {"p0":679,"p1":683.3,"q0":679,"q1":683.3,"v":2564},
        {"p0":679,"p1":683.3,"q0":683.3,"q1":687.7,"v":2100},
        {"p0":679,"p1":683.3,"q0":687.7,"q1":692,"v":1350},
        {"p0":679,"p1":683.3,"q0":692,"q1":696.3,"v":1000},
        {"p0":679,"p1":683.3,"q0":696.3,"q1":700.7,"v":320},
        {"p0":683.3,"p1":687.7,"q0":679,"q1":683.3,"v":2100},
        {"p0":683.3,"p1":687.7,"q0":683.3,"q1":687.7,"v":2540},
        {"p0":683.3,"p1":687.7,"q0":687.7,"q1":692,"v":2050},
        {"p0":683.3,"p1":687.7,"q0":692,"q1":696.3,"v":1300},
        {"p0":683.3,"p1":687.7,"q0":696.3,"q1":700.7,"v":980},
        {"p0":683.3,"p1":687.7,"q0":700.7,"q1":705,"v":300},
        {"p0":687.7,"p1":692,"q0":679,"q1":683.3,"v":1350},
        {"p0":687.7,"p1":692,"q0":683.3,"q1":687.7,"v":2050},
        {"p0":687.7,"p1":692,"q0":687.7,"q1":692,"v":2500},
        {"p0":687.7,"p1":692,"q0":692,"q1":696.3,"v":2080},
        {"p0":687.7,"p1":692,"q0":696.3,"q1":700.7,"v":1320},
        {"p0":687.7,"p1":692,"q0":700.7,"q1":705,"v":1020},
        {"p0":692,"p1":696.3,"q0":679,"q1":683.3,"v":1000},
        {"p0":692,"p1":696.3,"q0":683.3,"q1":687.7,"v":1300},
        {"p0":692,"p1":696.3,"q0":687.7,"q1":692,"v":2080},
        {"p0":692,"p1":696.3,"q0":692,"q1":696.3,"v":2520},
        {"p0":692,"p1":696.3,"q0":696.3,"q1":700.7,"v":2020},
        {"p0":692,"p1":696.3,"q0":700.7,"q1":705,"v":1280},
        {"p0":696.3,"p1":700.7,"q0":679,"q1":683.3,"v":320},
        {"p0":696.3,"p1":700.7,"q0":683.3,"q1":687.7,"v":980},
        {"p0":696.3,"p1":700.7,"q0":687.7,"q1":692,"v":1320},
        {"p0":696.3,"p1":700.7,"q0":692,"q1":696.3,"v":2020},
        {"p0":696.3,"p1":700.7,"q0":696.3,"q1":700.7,"v":2490},
        {"p0":696.3,"p1":700.7,"q0":700.7,"q1":705,"v":2060},
        {"p0":700.7,"p1":705,"q0":683.3,"q1":687.7,"v":300},
        {"p0":700.7,"p1":705,"q0":687.7,"q1":692,"v":1020},
        {"p0":700.7,"p1":705,"q0":692,"q1":696.3,"v":1280},
        {"p0":700.7,"p1":705,"q0":696.3,"q1":700.7,"v":2060},
        {"p0":700.7,"p1":705,"q0":700.7,"q1":705,"v":2550}
      ]},
      "mark": {"type": "rect"},
      "encoding": {
        "x": {"field": "p0", "type": "quantitative", "scale": {"domain": [0, 705], "nice": false, "zero": false}, "axis": null},
        "x2": {"field": "p1"},
        "y": {"field": "q0", "type": "quantitative", "scale": {"domain": [0, 705], "nice": false, "zero": false, "reverse": true}, "title": "D)"},
        "y2": {"field": "q1"},
        "color": {
          "field": "v", "type": "quantitative",
          "scale": {"domain": [0, 1282, 2564], "range": ["#ffffff", "#ff0000", "#ff0000"], "interpolate": "rgb"},
          "legend": {
            "type": "gradient", "direction": "horizontal", "orient": "none",
            "legendX": 142, "legendY": 734, "padding": 0,
            "gradientLength": 414, "gradientThickness": 13,
            "gradientStrokeColor": "#dcdcdc", "gradientStrokeWidth": 6,
            "values": [0, 1282, 2564], "format": "d",
            "labelFontSize": 21, "labelFont": "Liberation Sans", "labelColor": "#000000", "labelOffset": 10,
            "encode": {"labels": {"update": {"align": {"value": "center"}}}},
            "title": "Colour Scale", "titleOrient": "bottom", "titleAnchor": "middle", "titleFontSize": 21, "titleFontWeight": "bold", "titleFont": "Liberation Sans", "titleColor": "#000000", "titlePadding": 13
          }
        }
      }
    },
    {
      "data": {"values": [{"pos":52},{"pos":100},{"pos":143},{"pos":186},{"pos":231},{"pos":268},{"pos":308},{"pos":347},{"pos":384},{"pos":423},{"pos":458},{"pos":494},{"pos":527},{"pos":559},{"pos":592},{"pos":623},{"pos":652},{"pos":679}]},
      "mark": {"type": "rule", "color": "#a6a6a6", "strokeWidth": 3},
      "encoding": {"x": {"field": "pos", "type": "quantitative", "axis": null}}
    },
    {
      "data": {"values": [{"pos":52},{"pos":100},{"pos":143},{"pos":186},{"pos":231},{"pos":268},{"pos":308},{"pos":347},{"pos":384},{"pos":423},{"pos":458},{"pos":494},{"pos":527},{"pos":559},{"pos":592},{"pos":623},{"pos":652},{"pos":679}]},
      "mark": {"type": "rule", "color": "#a6a6a6", "strokeWidth": 3},
      "encoding": {"y": {"field": "pos", "type": "quantitative", "title": "D)"}}
    }
  ]
}
